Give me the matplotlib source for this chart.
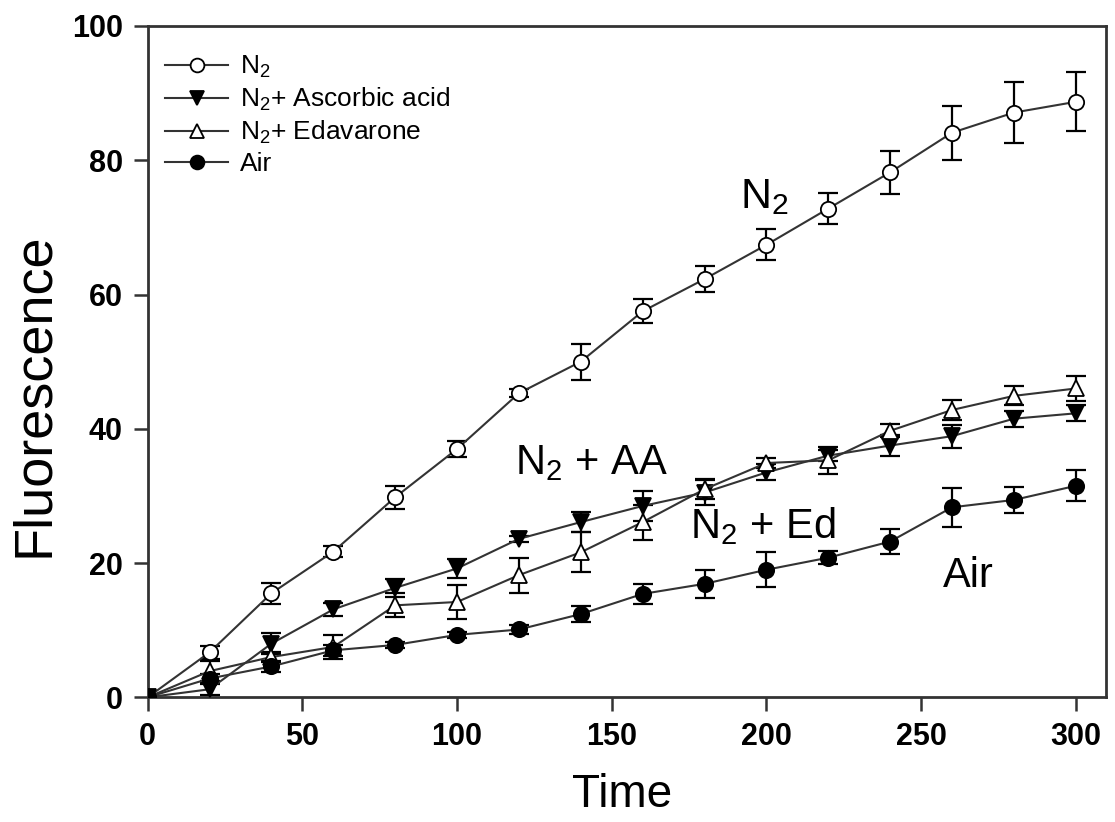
import numpy as np
import matplotlib
matplotlib.use('Agg')
import matplotlib.pyplot as plt

plt.rcParams['font.family'] = ['Liberation Sans', 'DejaVu Sans']
plt.rcParams['mathtext.fontset'] = 'custom'
plt.rcParams['mathtext.rm'] = 'Liberation Sans'
plt.rcParams['mathtext.it'] = 'Liberation Sans:italic'
plt.rcParams['mathtext.bf'] = 'Liberation Sans:bold'

# time points
t = [0, 20, 40, 60, 80, 100, 120, 140, 160, 180, 200, 220, 240, 260, 280, 300]

n2 = [0, 6.7, 15.5, 21.7, 29.8, 37.0, 45.3, 50.0, 57.5, 62.3, 67.4, 72.8, 78.2, 84.1, 87.1, 88.7]
n2_err = [0, 1.0, 1.6, 0.8, 1.7, 1.2, 0.6, 2.7, 1.8, 1.9, 2.3, 2.3, 3.2, 4.0, 4.5, 4.4]

aa = [0, 1.2, 8.0, 13.1, 16.3, 19.2, 23.6, 26.1, 28.5, 30.5, 33.5, 36.0, 37.5, 38.9, 41.5, 42.3]
aa_err = [0, 0.8, 1.6, 1.0, 1.3, 1.4, 0.5, 1.5, 2.2, 1.8, 1.2, 0.8, 1.5, 1.7, 1.2, 1.2]

ed = [0, 3.9, 6.0, 7.5, 13.7, 14.2, 18.2, 21.6, 26.1, 31.0, 34.9, 35.3, 39.7, 42.8, 44.9, 46.0]
ed_err = [0, 1.5, 0.8, 1.8, 1.8, 2.6, 2.6, 3.0, 2.6, 1.5, 0.8, 2.0, 1.0, 1.5, 1.4, 1.9]

air = [0, 2.8, 4.6, 7.0, 7.8, 9.3, 10.1, 12.4, 15.4, 16.9, 19.0, 20.8, 23.2, 28.3, 29.4, 31.5]
air_err = [0, 0.6, 0.8, 0.8, 0.5, 0.5, 0.6, 1.2, 1.5, 2.1, 2.6, 1.0, 1.9, 2.9, 1.9, 2.3]

legend_labels = ['N$\\mathregular{_2}$', 'N$\\mathregular{_2}$+ Ascorbic acid',
                 'N$\\mathregular{_2}$+ Edavarone', 'Air']

fig = plt.figure(figsize=(11.15, 8.22), dpi=100)
ax = fig.add_axes([0.1325, 0.1517, 0.8592, 0.8167])

series = [
    (n2, n2_err, 'o', 'white'),
    (aa, aa_err, 'v', 'black'),
    (ed, ed_err, '^', 'white'),
    (air, air_err, 'o', 'black'),
]
handles = []
for (y, e, m, fc), lab in zip(series, legend_labels):
    ax.errorbar(t, y, yerr=e, fmt='none', ecolor='black', elinewidth=1.6,
                capsize=7, capthick=1.6, zorder=2)
    h, = ax.plot(t, y, color='#333333', lw=1.5, marker=m, markersize=11,
                 markerfacecolor=fc, markeredgecolor='black', markeredgewidth=1.3,
                 zorder=3, label=lab)
    handles.append(h)

leg = ax.legend(handles=handles, loc='upper left', bbox_to_anchor=(0.018, 0.958),
                frameon=False, fontsize=19, borderpad=0, borderaxespad=0,
                handlelength=2.4, handletextpad=0.45, labelspacing=0.22,
                markerscale=0.9)

ax.text(191.5, 72.9, 'N$\\mathregular{_2}$', fontsize=31, ha='left', va='baseline')
ax.text(118.8, 33.3, 'N$\\mathregular{_2}$ + AA', fontsize=30, ha='left', va='baseline')
ax.text(175.3, 23.7, 'N$\\mathregular{_2}$ + Ed', fontsize=30, ha='left', va='baseline')
ax.text(257.1, 16.4, 'Air', fontsize=30, ha='left', va='baseline')

ax.set_xlim(0, 309.7)
ax.set_ylim(0, 100)
ax.set_xticks([0, 50, 100, 150, 200, 250, 300])
ax.set_yticks([0, 20, 40, 60, 80, 100])
for s in ax.spines.values():
    s.set_linewidth(2)
    s.set_color('#333333')
ax.tick_params(direction='out', length=10, width=1.8, color='#333333',
               labelsize=22, pad=8)
for lb in ax.get_xticklabels() + ax.get_yticklabels():
    lb.set_fontweight('bold')

ax.set_xlabel('Time', fontsize=33, va='center')
ax.set_ylabel('Fluorescence', fontsize=39, va='center')
ax.xaxis.set_label_coords(0.495, -0.1455)
ax.yaxis.set_label_coords(-0.119, 0.45)

fig.savefig('out.png', dpi=100)
